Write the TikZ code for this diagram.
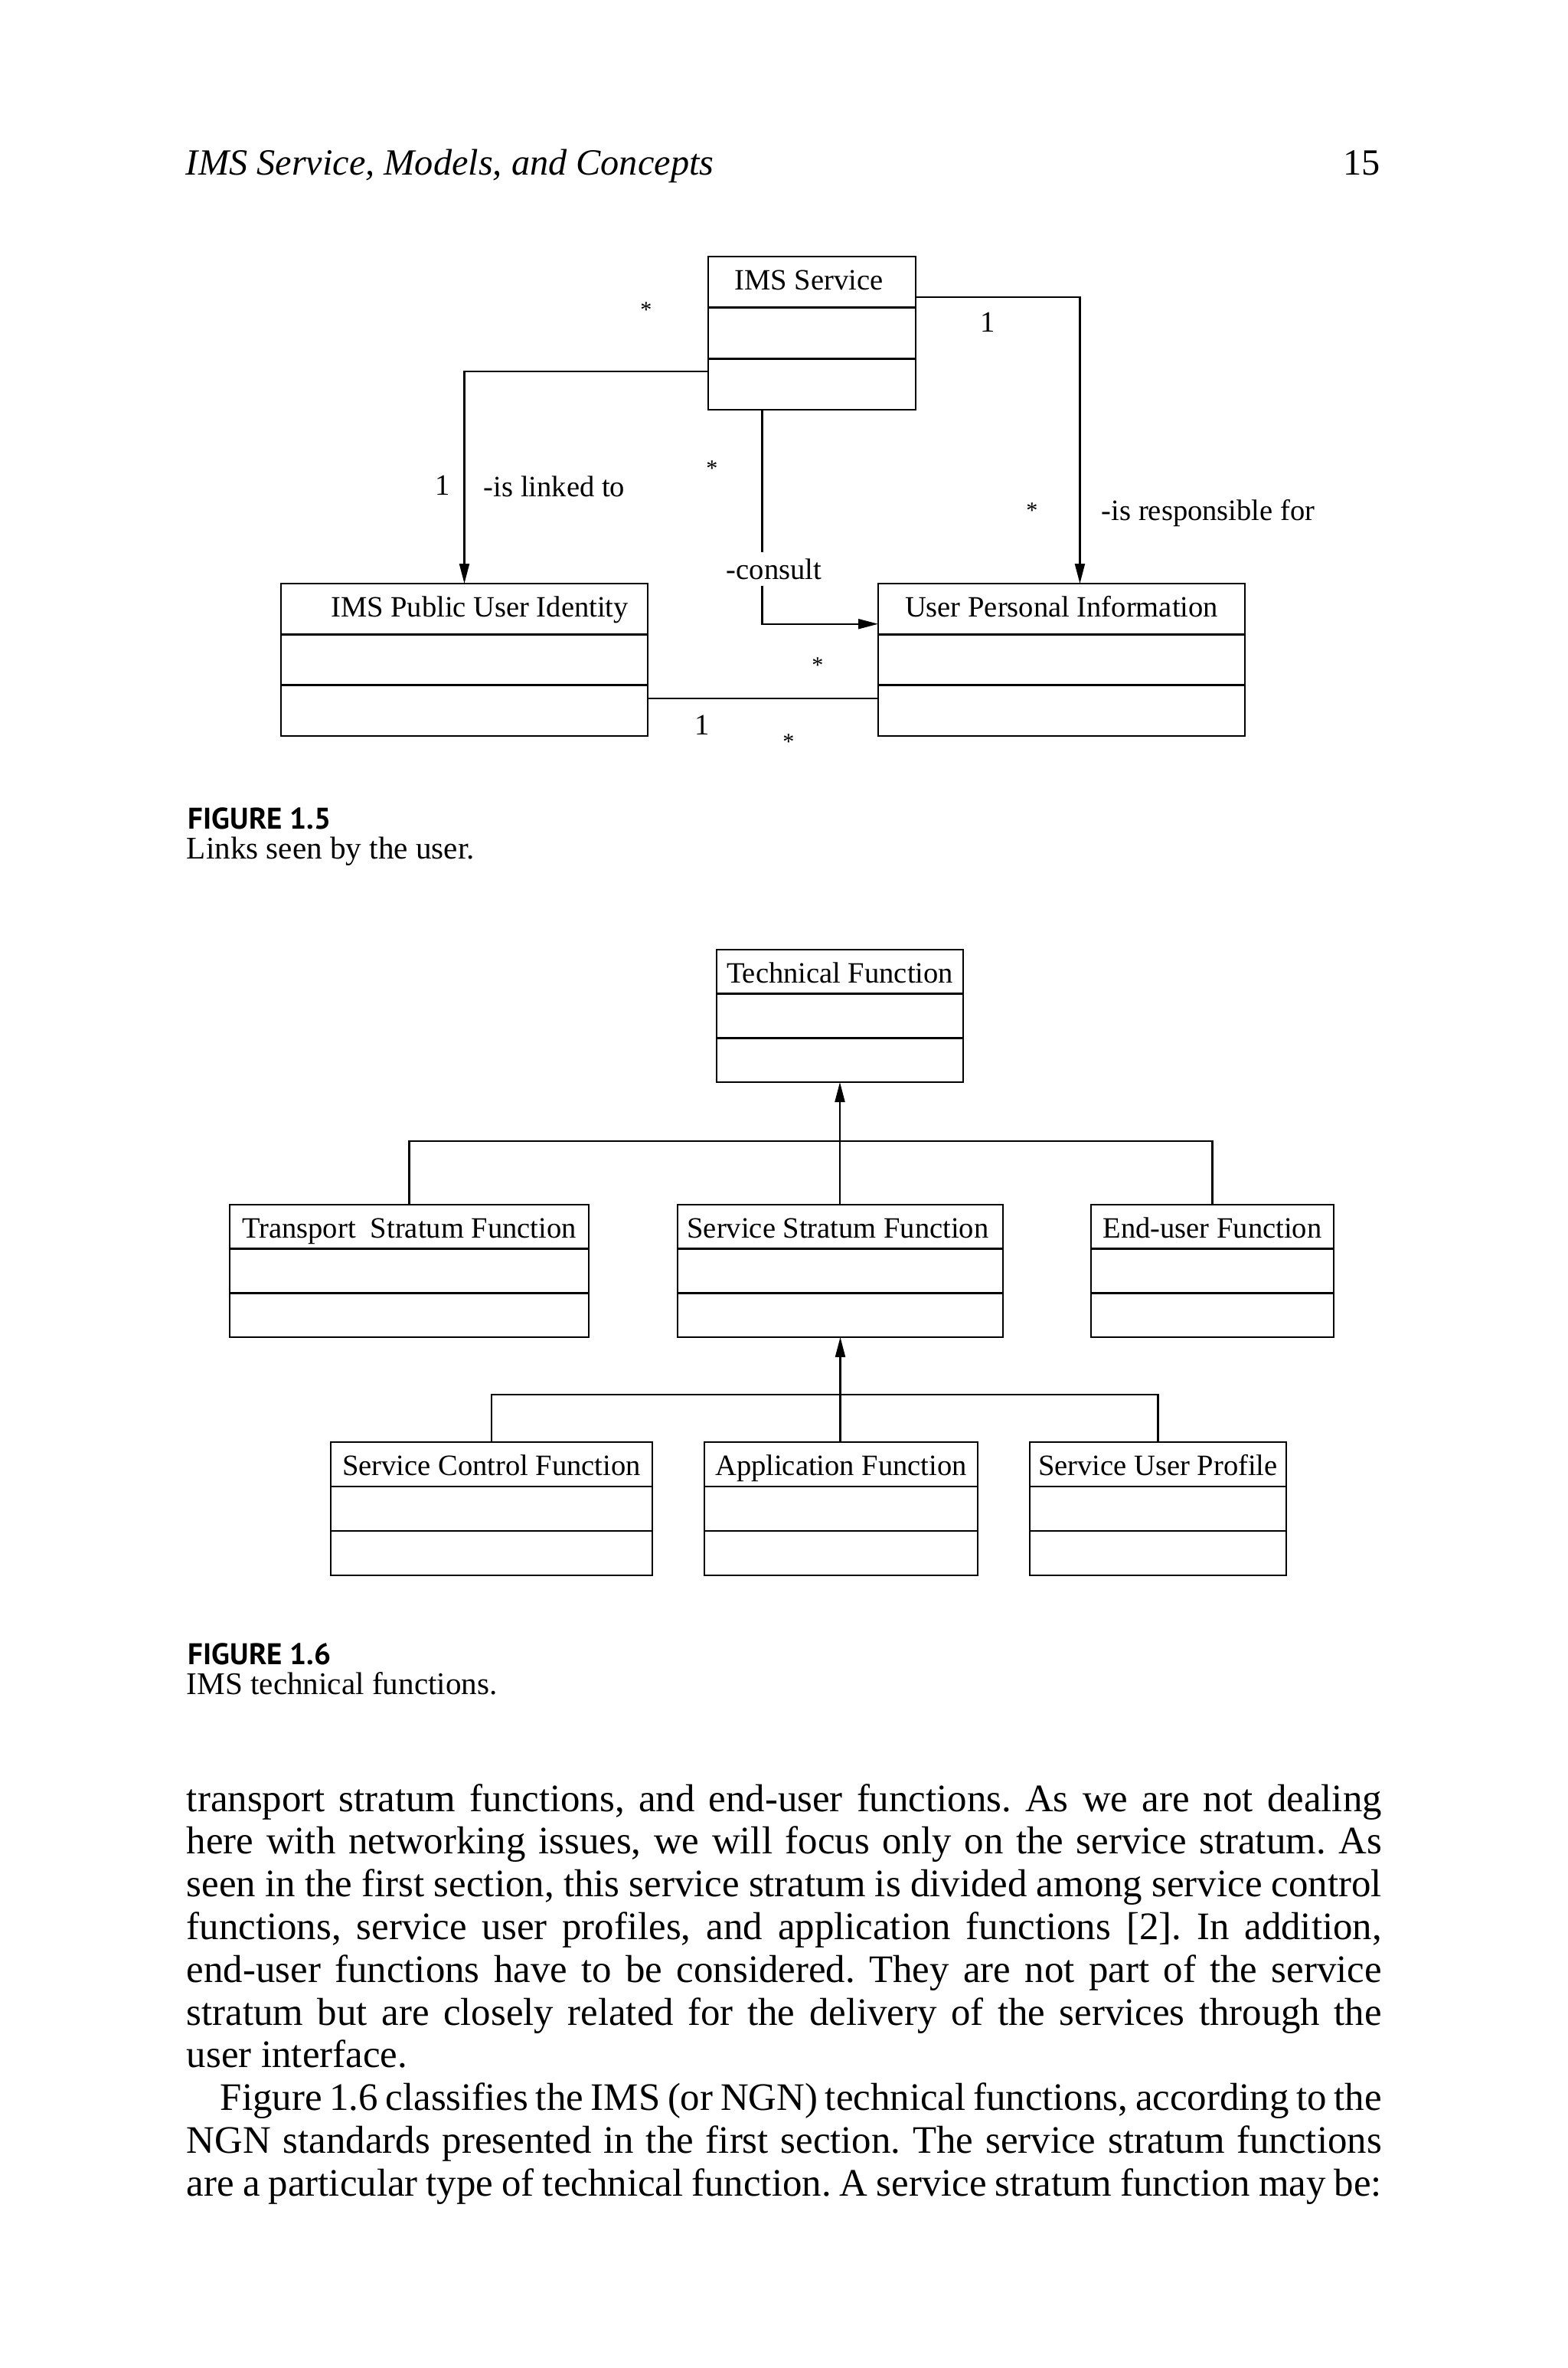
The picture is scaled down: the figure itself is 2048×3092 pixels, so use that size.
\documentclass[tikz,border=0pt]{standalone}
\usepackage{fontspec}
\setmainfont{Liberation Serif}
\newfontfamily\capsans{PT Sans}
\usetikzlibrary{arrows.meta,calc,fit}
\frenchspacing
\tikzset{
  cls/.style={draw, line width=0.6pt, inner sep=0pt, outer sep=0pt},
  divider/.style={line width=0.6pt},
  conn/.style={line width=0.45pt},
  arr/.style={conn, -{Triangle[length=5.6pt,width=2.8pt]}},
  boxtxt/.style={anchor=base, inner sep=0pt, font=\fontsize{8.3}{10}\selectfont},
  lbl/.style={inner sep=0pt, font=\fontsize{8.3}{10}\selectfont},
  star/.style={inner sep=0pt, font=\fontsize{6.5}{8}\selectfont},
  bodytxt/.style={anchor=base west, inner sep=0pt, font=\fontsize{10.95}{12}\selectfont},
  capnum/.style={anchor=base west, inner sep=0pt, font=\capsans\bfseries\fontsize{8.4}{10}\selectfont},
  captxt/.style={anchor=base west, inner sep=0pt, font=\fontsize{8.86}{10}\selectfont},
}
% UML class box: name, left, top, right, bottom, title, title x offset
\newcommand\umlclass[7]{%
  \node[cls, fit={(#2,#3) (#4,#5)}] (#1) {};
  \draw[divider] ($(#1.north west)!1/3!(#1.south west)$) -- ($(#1.north east)!1/3!(#1.south east)$);
  \draw[divider] ($(#1.north west)!2/3!(#1.south west)$) -- ($(#1.north east)!2/3!(#1.south east)$);
  \node[boxtxt] (#1-t) at ($(#1.north)+(#7,43)$) {#6};
}
\newcommand\jline[3]{\node[bodytxt] (#1) at (243,#2) {\makebox[336.1pt][s]{#3}};}
\begin{document}
\begin{tikzpicture}[x=0.215332pt,y=-0.215332pt]
\fill[white] (0,0) rectangle (2048,3092);
\useasboundingbox (0,0) rectangle (2048,3092);

% running head
\node[anchor=base west, inner sep=0pt, font=\itshape\fontsize{10.4}{12}\selectfont] (head) at (242,228) {IMS Service, Models, and Concepts};
\node[anchor=base east, inner sep=0pt, font=\fontsize{10.4}{12}\selectfont] (page) at (1804,228) {15};

% ---------------- Figure 1.5 ----------------
\umlclass{ims}{925}{335}{1196}{535}{IMS Service}{-4}
\umlclass{pui}{367}{762}{846}{961}{IMS Public User Identity}{20}
\umlclass{upi}{1147}{762}{1626}{961}{User Personal Information}{0}

\draw[arr] ($(ims.south west)!0.25!(ims.north west)$) -| (pui.north);
\draw[arr] ($(ims.north east)!0.265!(ims.south east)$) -| ($(upi.north west)!0.55!(upi.north east)$);
\draw[arr] ($(ims.south west)!0.26!(ims.south east)$) |- ($(upi.north west)!0.265!(upi.south west)$);
\draw[conn] ($(pui.north east)!0.755!(pui.south east)$) -- ($(upi.north west)!0.755!(upi.south west)$);

\node[star] (s1) at (844,405) {*};
\node[lbl] (m1) at (1290,421) {1};
\node[star] (s2) at (930,612) {*};
\node[lbl] (m2) at (578,634) {1};
\node[lbl, anchor=west] (r1) at (631,635) {-is linked to};
\node[star] (s3) at (1348,667) {*};
\node[lbl, anchor=west] (r2) at (1438,670) {-is responsible for};
\node[lbl, fill=white, minimum height=9.3pt, inner xsep=1pt] (r3) at (1011,743) {-consult};
\node[star] (s4) at (1068,869) {*};
\node[lbl] (m3) at (917,947) {1};
\node[star] (s5) at (1030,969) {*};

\node[capnum] (cap5n) at (245,1082) {FIGURE 1.5};
\node[captxt] (cap5t) at (243,1121) {Links seen by the user.};

% ---------------- Figure 1.6 ----------------
\umlclass{tf}{936}{1240}{1258}{1413}{Technical Function}{0}
\umlclass{tsf}{300}{1573}{769}{1746}{Transport\ \ Stratum Function}{0}
\umlclass{ssf}{885}{1573}{1310}{1746}{Service Stratum Function}{-3}
\umlclass{euf}{1425}{1573}{1742}{1746}{End-user Function}{0}
\umlclass{scf}{432}{1883}{852}{2057}{Service Control Function}{0}
\umlclass{af}{920}{1883}{1277}{2057}{Application Function}{0}
\umlclass{sup}{1345}{1883}{1680}{2057}{Service User Profile}{0}

\draw[arr] (tf.south |- ssf.north) -- (tf.south);
\coordinate (j1) at ($(tf.south)!0.48!(tf.south |- ssf.north)$);
\draw[conn] (tsf.north) |- (j1) -| (euf.north);

\draw[arr] (ssf.south |- af.north) -- (ssf.south);
\coordinate (j2) at ($(ssf.south)!0.547!(ssf.south |- af.north)$);
\draw[conn] (scf.north) |- (j2) -| (sup.north);

\node[capnum] (cap6n) at (245,2173) {FIGURE 1.6};
\node[captxt] (cap6t) at (243,2212) {IMS technical functions.};

% ---------------- body text ----------------
\jline{l1}{2365}{transport stratum functions, and end-user functions. As we are not dealing}
\jline{l2}{2420.8}{here with networking issues, we will focus only on the service stratum. As}
\jline{l3}{2476.6}{seen in the first section, this service stratum is divided among service control}
\jline{l4}{2532.4}{functions, service user profiles, and application functions [2]. In addition,}
\jline{l5}{2588.2}{end-user functions have to be considered. They are not part of the service}
\jline{l6}{2644}{stratum but are closely related for the delivery of the services through the}
\node[bodytxt] (l7) at (243,2699.8) {user interface.};
\node[bodytxt] (l8) at (287,2755.6) {\makebox[326.6pt][s]{Figure 1.6 classifies the IMS (or NGN) technical functions, according to the}};
\jline{l9}{2811.4}{NGN standards presented in the first section. The service stratum functions}
\jline{l10}{2867.2}{are a particular type of technical function. A service stratum function may be:}
\end{tikzpicture}
\end{document}
